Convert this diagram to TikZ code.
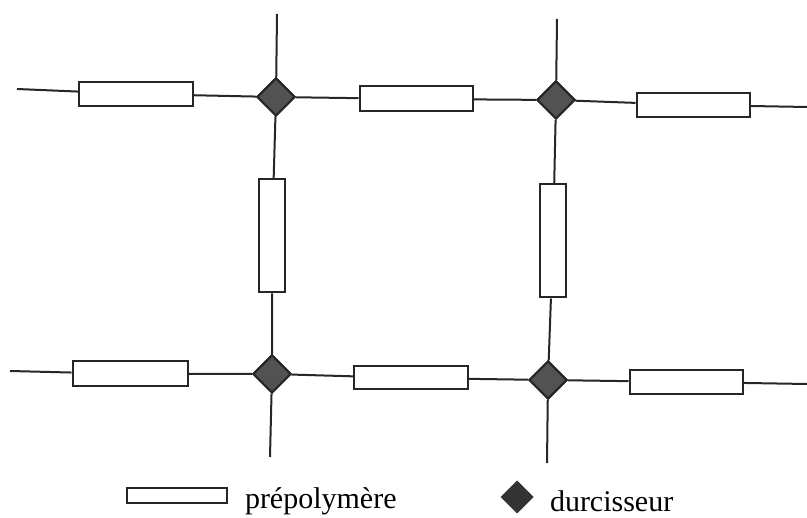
\documentclass[tikz,border=0pt]{standalone}
\usepackage{fontspec}
\setmainfont{Liberation Serif}
\usetikzlibrary{shapes.geometric}
\begin{document}
\begin{tikzpicture}[x=1pt,y=-1pt,
  line width=2pt,
  prepo/.style={draw=black!85, fill=white, rectangle, inner sep=0pt, minimum width=114pt, minimum height=24pt},
  prepov/.style={prepo, minimum width=26pt, minimum height=113pt},
  durc/.style={draw=black!85, fill=black!68, diamond, aspect=1, inner sep=0pt, minimum width=38pt, minimum height=38pt},
  link/.style={draw=black!85},
  lbl/.style={font=\fontsize{30}{36}\selectfont, inner sep=0pt, anchor=base west}]
\useasboundingbox (0,0) rectangle (807,518);
% top row
\coordinate (L0) at (17,89);
\node[prepo] (R1) at (136,94) {};
\node[durc] (D1) at (276,97) {};
\node[prepo, minimum width=113pt, minimum height=25pt] (R2) at (416,99) {};
\node[durc] (D2) at (556,100) {};
\node[prepo, minimum width=113pt] (R3) at (693,105) {};
\coordinate (L1) at (807,107);
\coordinate (T1) at (277,14);
\coordinate (T2) at (557,19);
% verticals
\node[prepov] (V1) at (272,236) {};
\node[prepov] (V2) at (553,241) {};
% bottom row
\coordinate (L2) at (10,371);
\node[prepo, minimum width=115pt, minimum height=25pt] (R4) at (130,374) {};
\node[durc] (D3) at (272,374) {};
\node[prepo, minimum height=23pt] (R5) at (411,378) {};
\node[durc] (D4) at (548,380) {};
\node[prepo, minimum width=113pt] (R6) at (686,382) {};
\coordinate (L3) at (807,384);
\coordinate (B1) at (270,457);
\coordinate (B2) at (547,463);
% connectors
\draw[link] (L0) -- (R1) -- (D1) -- (R2) -- (D2) -- (R3) -- (L1);
\draw[link] (L2) -- (R4) -- (D3) -- (R5) -- (D4) -- (R6) -- (L3);
\draw[link] (T1) -- (D1) -- (V1) -- (D3) -- (B1);
\draw[link] (T2) -- (D2) -- (V2) -- (D4) -- (B2);
% redraw nodes on top
\node[prepo] at (R1) {};
\node[prepo, minimum width=113pt, minimum height=25pt] at (R2) {};
\node[prepo, minimum width=113pt] at (R3) {};
\node[prepov] at (V1) {};
\node[prepov] at (V2) {};
\node[prepo, minimum width=115pt, minimum height=25pt] at (R4) {};
\node[prepo, minimum height=23pt] at (R5) {};
\node[prepo, minimum width=113pt] at (R6) {};
\node[durc] at (D1) {};
\node[durc] at (D2) {};
\node[durc] at (D3) {};
\node[durc] at (D4) {};
% legend
\node[prepo, minimum width=100pt, minimum height=15pt] (LR) at (177,496) {};
\node[lbl] (LRt) at (244,509) {prépolymère};
\node[durc, fill=black!80, draw=black!80, minimum width=31pt, minimum height=31pt] (LD) at (517,497) {};
\node[lbl] (LDt) at (549,512) {durcisseur};
\end{tikzpicture}
\end{document}
